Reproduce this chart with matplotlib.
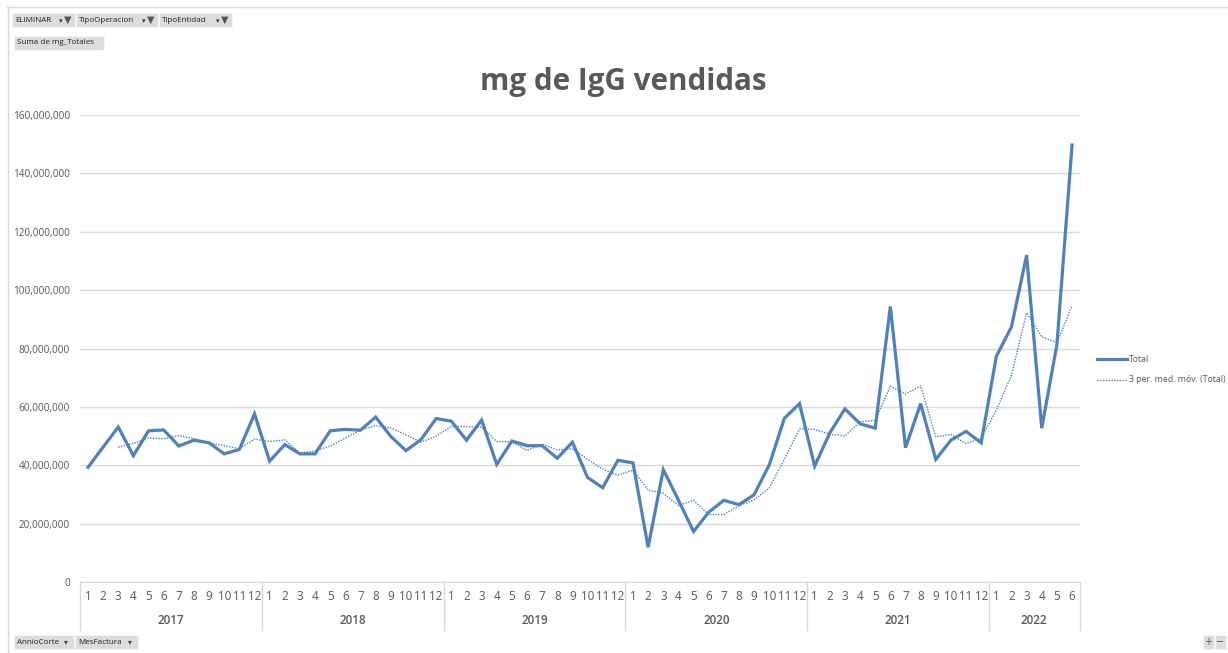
import matplotlib
matplotlib.use("Agg")
import matplotlib.pyplot as plt
import numpy as np
import pandas as pd
from matplotlib.patches import Rectangle
from matplotlib.lines import Line2D

years = ["2017", "2018", "2019", "2020", "2021", "2022"]
months_per_year = [12, 12, 12, 12, 12, 6]

total_2017 = [39.3, 46.2, 53.1, 43.3, 51.8, 52.1, 46.6, 48.6, 47.7, 43.9, 45.4, 57.6]
total_2018 = [41.4, 47.1, 43.9, 43.9, 51.8, 52.3, 52.0, 56.5, 49.9, 45.0, 48.8, 56.0]
total_2019 = [55.1, 48.6, 55.5, 40.3, 48.3, 46.7, 46.7, 42.4, 47.9, 35.8, 32.3, 41.7]
total_2020 = [40.8, 11.9, 38.5, 28.1, 17.3, 23.9, 28.0, 26.5, 29.9, 40.1, 56.1, 61.1]
total_2021 = [39.7, 51.1, 59.3, 54.2, 52.7, 94.4, 46.0, 61.1, 42.0, 48.6, 51.6, 47.7]
total_2022 = [77.3, 87.4, 112.0, 52.7, 81.3, 149.7]

total_millions = (total_2017 + total_2018 + total_2019 + total_2020
                  + total_2021 + total_2022)
totals = pd.Series(np.array(total_millions) * 1e6)
moving_avg = totals.rolling(3).mean()

month_labels = []
for n in months_per_year:
    month_labels += [str(m) for m in range(1, n + 1)]

yticks = np.arange(0, 160_000_001, 20_000_000)

W, H = 1228, 653
fig = plt.figure(figsize=(W / 100, H / 100), dpi=100)
fig.patch.set_facecolor("white")

FONT = ["Open Sans", "DejaVu Sans"]
GRAY = "#595959"
LINE_BLUE = "#4f81bd"

def fx(px):
    return px / W

def fy(py):
    return 1 - py / H

left, right, top, bottom = 80.4, 1079.6, 115, 582
ax = fig.add_axes([fx(left), fy(bottom), fx(right - left), fy(top) - fy(bottom)])
x = np.arange(len(totals))
ax.plot(x, totals.values, color=LINE_BLUE, lw=2.3, solid_joinstyle="miter",
        label="Total", zorder=3)
ax.plot(x, moving_avg.values, color=LINE_BLUE, lw=1.0, ls=(0, (1, 1)),
        label="3 per. med. móv. (Total)", zorder=2)
ax.set_xlim(-0.5, len(totals) - 0.5)
ax.set_ylim(0, 160_000_000)
ax.set_yticks(yticks)
ax.set_yticklabels([f"{v:,.0f}" for v in yticks], fontsize=7.2, color=GRAY,
                   family=FONT)
ax.tick_params(axis="y", length=0, pad=7.5)
ax.grid(axis="y", color="#d9d9d9", lw=1)
ax.set_axisbelow(True)
for s in ["left", "right", "top"]:
    ax.spines[s].set_visible(False)
ax.spines["bottom"].set_color("#d9d9d9")
ax.set_xticks([])

# multi-level category axis
idx = 0
bounds = [-0.5]
for n in months_per_year:
    idx += n
    bounds.append(idx - 0.5)
trans = ax.get_xaxis_transform()
for b in bounds:
    ax.add_line(Line2D([b, b], [0, -(630 - 582) / (bottom - top)], transform=trans,
                       color="#d9d9d9", lw=1, clip_on=False))
for i, lab in enumerate(month_labels):
    ax.text(i, -(597 - 582) / (bottom - top), lab, transform=trans, ha="center",
            va="center", fontsize=8.4, color=GRAY, family=FONT)
for k, yr in enumerate(years):
    c = (bounds[k] + bounds[k + 1]) / 2
    ax.text(c, -(620 - 582) / (bottom - top), yr, transform=trans, ha="center",
            va="center", fontsize=8.4, color=GRAY, family=FONT, fontweight="semibold")

# title
fig.text(fx(623), fy(82), "mg de IgG vendidas", ha="center", va="center",
         fontsize=21.3, fontweight="bold", color=GRAY, family=FONT)

# legend
fig.add_artist(Line2D([fx(1097), fx(1127)], [fy(359), fy(359)], color=LINE_BLUE, lw=2.3))
fig.text(fx(1129), fy(359), "Total", fontsize=6.3, color=GRAY, va="center", family=FONT)
fig.add_artist(Line2D([fx(1097), fx(1127)], [fy(380), fy(380)], color=LINE_BLUE, lw=1.0,
                      ls=(0, (1, 1))))
fig.text(fx(1129), fy(380), "3 per. med. móv. (Total)", fontsize=6.3, color=GRAY,
         va="center", family=FONT)

# chart border lines
fig.add_artist(Line2D([fx(7), fx(1228)], [fy(6.5), fy(6.5)], color="#d9d9d9", lw=1))
fig.add_artist(Line2D([fx(7.5), fx(7.5)], [fy(6.5), fy(653)], color="#d9d9d9", lw=1))

# pivot field buttons
def button(x0, y0, w, h, text, icon=None):
    fig.add_artist(Rectangle((fx(x0), fy(y0 + h)), fx(w), fy(y0) - fy(y0 + h),
                             facecolor="#dcdcdc", edgecolor="#f4f4f4", lw=0.8))
    fig.text(fx(x0 + 3), fy(y0 + h / 2), text, fontsize=5.8, color="#222222",
             va="center", family=FONT)
    if icon == "filter":
        fig.text(fx(x0 + w - 14), fy(y0 + h / 2 + 1), "▾", fontsize=5, color="#333333",
                 va="center", ha="center", family=["DejaVu Sans"])
        fig.text(fx(x0 + w - 7), fy(y0 + h / 2), "▼", fontsize=7, color="#555555",
                 va="center", ha="center", family=["DejaVu Sans"])
    elif icon == "drop":
        fig.text(fx(x0 + w - 8), fy(y0 + h / 2), "▾", fontsize=5.5, color="#444444",
                 va="center", ha="center", family=["DejaVu Sans"])

button(12, 13, 63, 14, "ELIMINAR", "filter")
button(76, 13, 82, 14, "TipoOperacion", "filter")
button(159, 13, 73, 14, "TipoEntidad", "filter")
button(14, 36, 90, 14, "Suma de mg_Totales")
button(14, 635, 60, 14, "AnnioCorte", "drop")
button(75, 635, 63, 14, "MesFactura", "drop")
button(1203, 635, 11, 14, "")
button(1215, 635, 11, 14, "")
fig.text(fx(1208.5), fy(642), "+", fontsize=7, color="#555555", ha="center", va="center")
fig.text(fx(1220.5), fy(642), "−", fontsize=7, color="#555555", ha="center", va="center")

fig.savefig("out.png", dpi=100, facecolor="white")
